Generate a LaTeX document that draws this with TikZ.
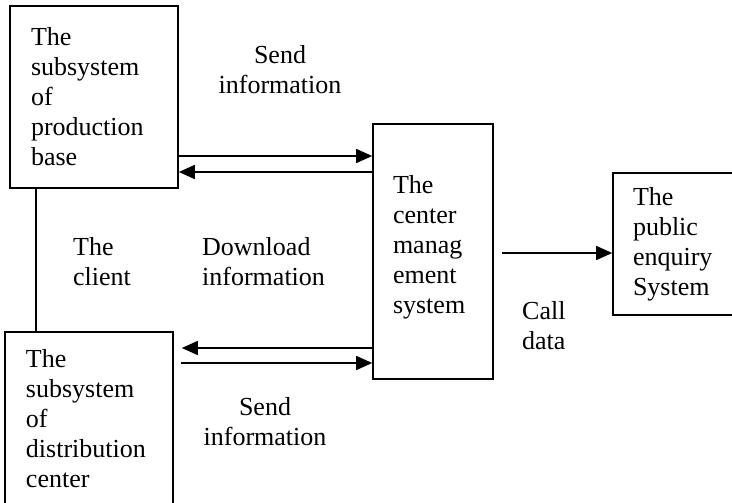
\documentclass[tikz,border=0pt]{standalone}
\usepackage{fontspec}
\setmainfont{Liberation Serif}
\usetikzlibrary{arrows.meta}
\begin{document}
\begin{tikzpicture}[x=1pt, y=-1pt, font=\fontsize{26}{30}\selectfont,
  box/.style = {draw, line width=1.6pt, align=left, inner xsep=21pt, inner ysep=0pt},
  lbl/.style = {inner sep=0pt},
  arr/.style = {line width=1.5pt, -{Triangle[length=16pt,width=14pt]}}]
\useasboundingbox (0,0) rectangle (732,503);
% boxes
\node[box, text width=126pt, minimum height=182pt] (prod) at (94,97) {The\\subsystem\\of\\production\\base};
\node[box, text width=126pt, minimum height=174pt] (dist) at (89,419) {The\\subsystem\\of\\distribution\\center};
\node[box, inner xsep=20pt, text width=80pt, minimum height=255pt, text depth=135pt] (cms) at (433,251.5) {The\\center\\manag\\ement\\system};
\node[box, inner xsep=20pt, text width=82pt, minimum height=142pt] (pub) at (674,244) {The\\public\\enquiry\\System};
% arrow levels
\coordinate (t1) at (0,156);
\coordinate (t2) at (0,172);
\coordinate (b1) at (0,348);
\coordinate (b2) at (0,363);
\coordinate (cd) at (0,253);
\draw[arr] (prod.east |- t1) -- (cms.west |- t1);
\draw[arr] (cms.west |- t2) -- (prod.east |- t2);
\draw[arr, shorten >=8pt] (cms.west |- b1) -- (dist.east |- b1);
\draw[arr, shorten <=7pt] (dist.east |- b2) -- (cms.west |- b2);
\draw[arr, shorten <=8pt] (cms.east |- cd) -- (pub.west |- cd);
% the client
\coordinate (cl) at ([xshift=27pt]prod.south west);
\draw[line width=1.5pt] (cl) -- (cl |- dist.north);
% labels
\node[lbl, align=center, anchor=north] (send1) at (280,45) {Send\\information};
\node[lbl, align=center, anchor=north] (send2) at (265,397) {Send\\information};
\node[lbl, align=left, anchor=north west] (client) at (73,237) {The\\client};
\node[lbl, align=left, anchor=north west] (down) at (202,237) {Download\\information};
\node[lbl, align=left, anchor=north west] (call) at (522,301) {Call\\data};
\end{tikzpicture}
\end{document}
